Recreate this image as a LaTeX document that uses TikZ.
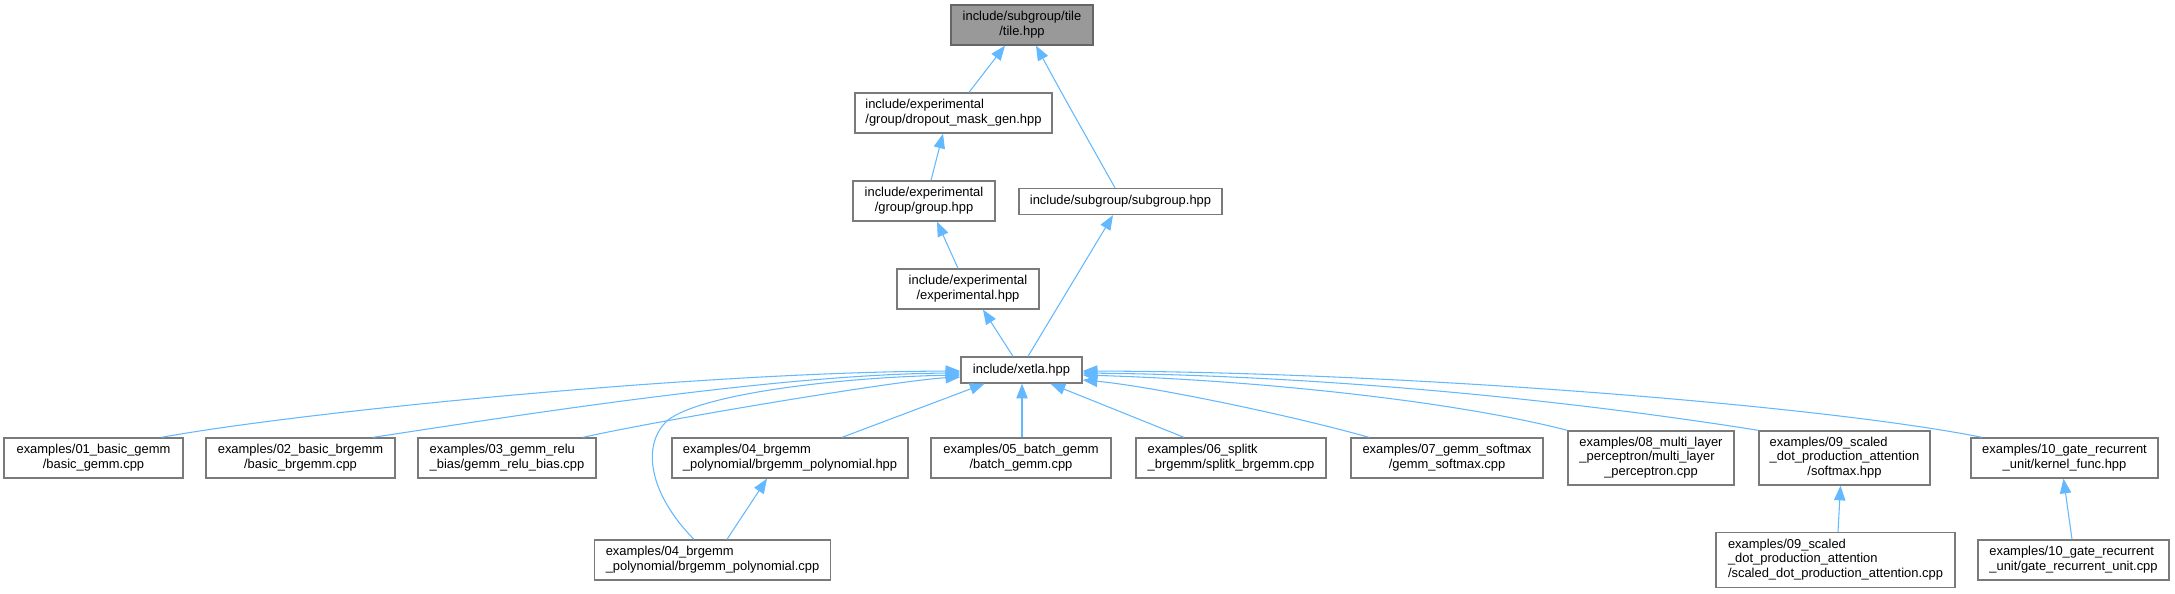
\documentclass[tikz,border=0pt]{standalone}
\usepackage{fontspec}
\setmainfont{Liberation Sans}
\usetikzlibrary{arrows.meta,calc}
\definecolor{edgeblue}{HTML}{63B8FF}
\definecolor{boxline}{HTML}{7A7A7A}
\definecolor{rootfill}{HTML}{999999}
\newcommand\lbl[1]{\begin{tabular}{@{}l@{}}#1\end{tabular}}
\newcommand\ctr[1]{\multicolumn{1}{@{}c@{}}{#1}}
\tikzset{
  box/.style={draw=boxline, fill=white, line width=1pt, inner sep=0pt, align=center,
    font=\fontsize{9.7}{10.8}\selectfont},
  rootbox/.style={box, fill=rootfill, draw=black!60},
  sz/.style 2 args={minimum width=#1*0.75pt, minimum height=#2*0.75pt},
  edge/.style={draw=edgeblue, line width=0.8pt, {Triangle[length=11pt,width=8.5pt]}-},
}
\begin{document}
\begin{tikzpicture}[x=0.75pt,y=-0.75pt]
\useasboundingbox (0,0) rectangle (2175,593);
% top
\node[rootbox, sz={142}{40}] (tile) at (1022,25) {\lbl{include/subgroup/tile\\ \ctr{/tile.hpp}}};
\node[box, sz={197}{40}] (drop) at (953.5,113) {\lbl{include/experimental\\ \ctr{/group/dropout\_mask\_gen.hpp}}};
\node[box, sz={142}{40}] (group) at (924,201) {\lbl{include/experimental\\ \ctr{/group/group.hpp}}};
\node[box, sz={203}{26}] (subg) at (1120.5,201.5) {include/subgroup/subgroup.hpp};
\node[box, sz={142}{40}] (exper) at (968,289) {\lbl{include/experimental\\ \ctr{/experimental.hpp}}};
\node[box, sz={121}{26}] (xetla) at (1021.5,370) {include/xetla.hpp};
% bottom row
\node[box, sz={179}{40}] (n01) at (93.5,458) {\lbl{examples/01\_basic\_gemm\\ \ctr{/basic\_gemm.cpp}}};
\node[box, sz={189}{40}] (n02) at (300.5,458) {\lbl{examples/02\_basic\_brgemm\\ \ctr{/basic\_brgemm.cpp}}};
\node[box, sz={178}{40}] (n03) at (507,458) {\lbl{examples/03\_gemm\_relu\\ \ctr{\_bias/gemm\_relu\_bias.cpp}}};
\node[box, sz={236}{40}] (n04h) at (790,458) {\lbl{examples/04\_brgemm\\ \ctr{\_polynomial/brgemm\_polynomial.hpp}}};
\node[box, sz={180}{40}] (n05) at (1021,458) {\lbl{examples/05\_batch\_gemm\\ \ctr{/batch\_gemm.cpp}}};
\node[box, sz={190}{40}] (n06) at (1231,458) {\lbl{examples/06\_splitk\\ \ctr{\_brgemm/splitk\_brgemm.cpp}}};
\node[box, sz={192}{40}] (n07) at (1447,458) {\lbl{examples/07\_gemm\_softmax\\ \ctr{/gemm\_softmax.cpp}}};
\node[box, sz={166}{54}] (n08) at (1651,458) {\lbl{examples/08\_multi\_layer\\ \_perceptron/multi\_layer\\ \ctr{\_perceptron.cpp}}};
\node[box, sz={171}{54}] (n09s) at (1844.5,458) {\lbl{examples/09\_scaled\\ \_dot\_production\_attention\\ \ctr{/softmax.hpp}}};
\node[box, sz={187}{40}] (n10k) at (2064.5,458) {\lbl{examples/10\_gate\_recurrent\\ \ctr{\_unit/kernel\_func.hpp}}};
% third row
\node[box, sz={236}{40}] (n04c) at (712.5,560) {\lbl{examples/04\_brgemm\\ \ctr{\_polynomial/brgemm\_polynomial.cpp}}};
\node[box, sz={239}{55}] (n09c) at (1835.5,560) {\lbl{examples/09\_scaled\\ \_dot\_production\_attention\\ \ctr{/scaled\_dot\_production\_attention.cpp}}};
\node[box, sz={191}{40}] (n10c) at (2073.5,560) {\lbl{examples/10\_gate\_recurrent\\ \ctr{\_unit/gate\_recurrent\_unit.cpp}}};
% top edges
\draw[edge] ($(tile.south)+(-17,0)$) -- ($(drop.north)+(15.5,0)$);
\draw[edge] ($(tile.south)+(14,0)$) .. controls (1060,90) .. ($(subg.north)+(-5.5,0)$);
\draw[edge] ($(drop.south)+(-10.5,0)$) -- ($(group.north)+(7,0)$);
\draw[edge] ($(group.south)+(13,0)$) -- ($(exper.north)+(-10,0)$);
\draw[edge] ($(subg.south)+(-7.5,0)$) -- ($(xetla.north)+(6.5,0)$);
\draw[edge] ($(exper.south)+(15,0)$) -- ($(xetla.north)+(-8.5,0)$);
% xetla to bottom row
\draw[edge] ($(xetla.west)+(0,1)$) .. controls (700,372) and (300,412) .. ($(n01.north)+(68,0)$);
\draw[edge] ($(xetla.west)+(0,3)$) .. controls (780,374) and (520,415) .. ($(n02.north)+(72.5,0)$);
\draw[edge] ($(xetla.west)+(0,7)$) .. controls (900,380) and (660,420) .. ($(n03.north)+(76,0)$);
\draw[edge] ($(xetla.west)+(0,5)$) .. controls (850,377) and (705,392) .. (668,420)
  .. controls (640,445) and (650,495) .. ($(n04c.north)+(-18.5,0)$);
\draw[edge] ($(xetla.south)+(-37,0)$) -- ($(n04h.north)+(52,0)$);
\draw[edge] ($(xetla.south)+(0.5,0)$) -- ($(n05.north)+(1,0)$);
\draw[edge] ($(xetla.south)+(29,0)$) -- ($(n06.north)+(-47,0)$);
\draw[edge] ($(xetla.east)+(0,10)$) .. controls (1150,386) and (1290,415) .. ($(n07.north)+(-78,0)$);
\draw[edge] ($(xetla.east)+(0,5)$) .. controls (1250,380) and (1450,400) .. (n08.north west);
\draw[edge] ($(xetla.east)+(0,3)$) .. controls (1350,376) and (1600,405) .. (n09s.north west);
\draw[edge] ($(xetla.east)+(0,1)$) .. controls (1400,372) and (1820,405) .. ($(n10k.north)+(-82.5,0)$);
% third-level edges
\draw[edge] ($(n04h.south)+(-23,0)$) -- ($(n04c.north)+(14.5,0)$);
\draw[edge] ($(n09s.south)+(-4,0)$) -- ($(n09c.north)+(2.5,0)$);
\draw[edge] ($(n10k.south)+(-1,0)$) -- ($(n10c.north)+(-1.5,0)$);
\end{tikzpicture}
\end{document}
